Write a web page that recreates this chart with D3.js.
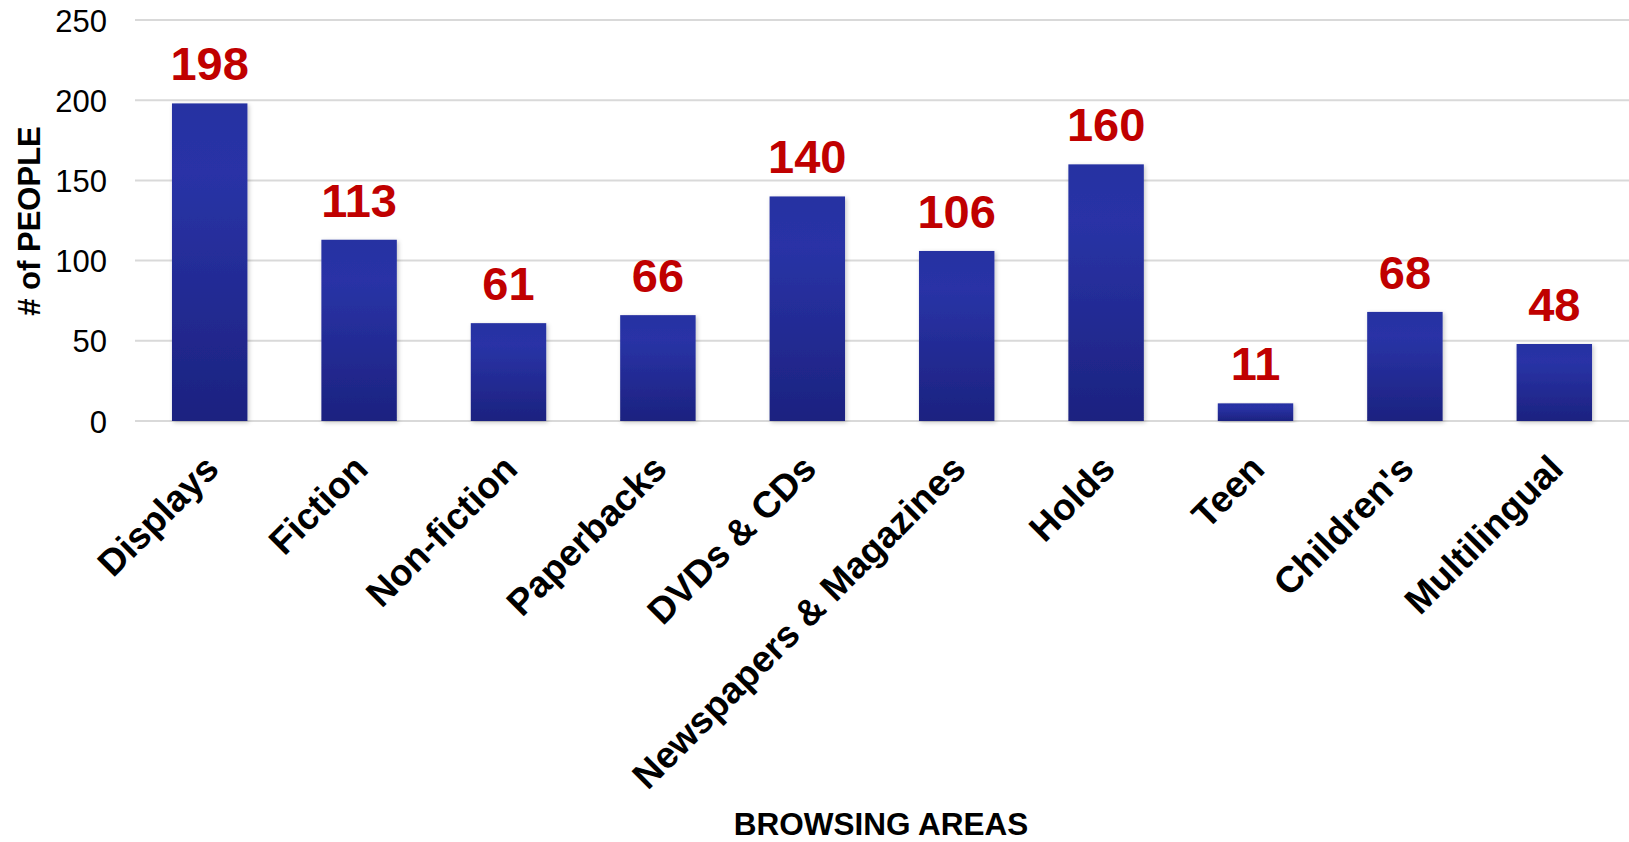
<!DOCTYPE html>
<html>
<head>
<meta charset="utf-8">
<script src="https://cdn.jsdelivr.net/npm/d3@7"></script>
<style>
  html, body { margin: 0; padding: 0; background: #fff; }
  svg { display: block; font-family: "Liberation Sans", Arial, sans-serif; }
</style>
</head>
<body>
<svg id="chart" width="1629" height="842"></svg>
<script>
// Browsing areas and number of people observed in each
const categories = ["Displays", "Fiction", "Non-fiction", "Paperbacks", "DVDs & CDs",
  "Newspapers & Magazines", "Holds", "Teen", "Children's", "Multilingual"];
const people = [198, 113, 61, 66, 140, 106, 160, 11, 68, 48];
const yTicks = [0, 50, 100, 150, 200, 250];
const xTitle = "BROWSING AREAS";
const yTitle = "# of PEOPLE";

const svg = d3.select("#chart");
const plot = { left: 135, right: 1629, top: 20, bottom: 421, gridEnd: 1629 };

const x = d3.scaleBand()
  .domain(categories)
  .range([plot.left, plot.right])
  .paddingInner(0.495)
  .paddingOuter(0.2475);

const y = d3.scaleLinear()
  .domain([0, 250])
  .range([plot.bottom, plot.top]);

const defs = svg.append("defs");
const grad = defs.append("linearGradient")
  .attr("id", "barFill").attr("x1", 0).attr("y1", 0).attr("x2", 0).attr("y2", 1);
grad.append("stop").attr("offset", "0%").attr("stop-color", "#2731A2");
grad.append("stop").attr("offset", "22%").attr("stop-color", "#2933A6");
grad.append("stop").attr("offset", "100%").attr("stop-color", "#1C2280");

const shadow = defs.append("filter").attr("id", "barShadow")
  .attr("x", "-20%").attr("y", "-5%").attr("width", "140%").attr("height", "115%");
shadow.append("feDropShadow")
  .attr("dx", 1.5).attr("dy", 1.5).attr("stdDeviation", 2)
  .attr("flood-color", "#000").attr("flood-opacity", 0.22);

// Horizontal gridlines
svg.append("g")
  .selectAll("line")
  .data(yTicks)
  .join("line")
  .attr("x1", plot.left).attr("x2", plot.gridEnd)
  .attr("y1", d => y(d)).attr("y2", d => y(d))
  .attr("stroke", "#D9D9D9").attr("stroke-width", 2);

// Y axis tick labels
const yAxis = d3.axisLeft(y).tickValues(yTicks).tickSize(0).tickPadding(28);
const yg = svg.append("g").attr("transform", `translate(${plot.left},0)`).call(yAxis);
yg.select(".domain").remove();
yg.selectAll("text")
  .attr("font-size", 31).attr("fill", "#000")
  .attr("font-family", "'Liberation Sans', Arial, sans-serif")
  .attr("dy", "0.36em");

// Bars
svg.append("g")
  .selectAll("rect")
  .data(categories.map((c, i) => ({ c, v: people[i] })))
  .join("rect")
  .attr("x", d => x(d.c))
  .attr("y", d => y(d.v))
  .attr("width", x.bandwidth())
  .attr("height", d => y(0) - y(d.v))
  .attr("fill", "url(#barFill)")
  .attr("filter", "url(#barShadow)");

// Value labels
svg.append("g")
  .selectAll("text")
  .data(categories.map((c, i) => ({ c, v: people[i] })))
  .join("text")
  .attr("x", d => x(d.c) + x.bandwidth() / 2)
  .attr("y", d => y(d.v) - 23)
  .attr("text-anchor", "middle")
  .attr("font-size", 47).attr("font-weight", "bold")
  .attr("fill", "#C00000")
  .text(d => d.v);

// Category labels, rotated
const xAxis = d3.axisBottom(x).tickSize(0).tickPadding(0);
const xg = svg.append("g").attr("transform", `translate(0,${plot.bottom})`).call(xAxis);
xg.select(".domain").remove();
xg.selectAll("text")
  .attr("font-size", 37).attr("font-weight", "bold").attr("fill", "#000")
  .attr("font-family", "'Liberation Sans', Arial, sans-serif")
  .attr("text-anchor", "end")
  .attr("y", 0).attr("dy", 0)
  .attr("transform", "translate(11,50) rotate(-45)");

// Axis titles
svg.append("text")
  .attr("x", 881)
  .attr("y", 835)
  .attr("text-anchor", "middle")
  .attr("font-size", 31.5).attr("font-weight", "bold")
  .text(xTitle);

svg.append("text")
  .attr("transform", `translate(40,221) rotate(-90)`)
  .attr("text-anchor", "middle")
  .attr("font-size", 31).attr("font-weight", "bold")
  .text(yTitle);
</script>
</body>
</html>
